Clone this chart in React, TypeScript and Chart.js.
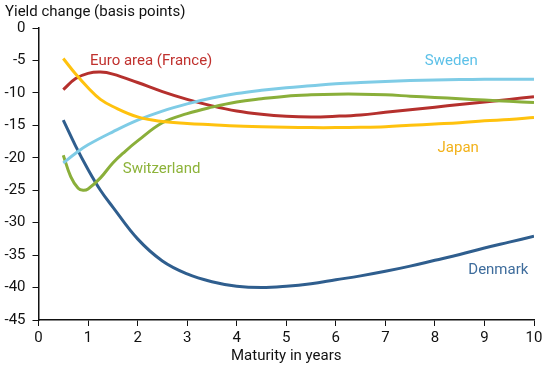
import React, { useEffect, useRef } from "react";
import { Chart, registerables } from "chart.js";

Chart.register(...registerables);

const denmarkX = [0.5, 0.75, 1, 1.25, 1.5, 2, 2.5, 3, 3.5, 4, 4.5, 5, 5.5, 6, 6.5, 7, 7.5, 8, 8.5, 9, 9.5, 10];
const denmarkY = [-14.2, -18.2, -21.8, -25, -27.6, -32.5, -35.9, -37.9, -39.1, -39.8, -40, -39.8, -39.4, -38.8, -38.2, -37.5, -36.7, -35.8, -34.9, -33.9, -33, -32.1];

const franceX = [0.5, 0.75, 1, 1.25, 1.5, 2, 2.5, 3, 3.5, 4, 4.5, 5, 5.5, 6, 6.5, 7, 7.5, 8, 8.5, 9, 9.5, 10];
const franceY = [-9.5, -7.8, -7.0, -6.8, -7.1, -8.4, -9.8, -11.0, -12.0, -12.8, -13.3, -13.6, -13.7, -13.6, -13.4, -13.0, -12.6, -12.2, -11.8, -11.4, -11.0, -10.6];

const japanX = [0.5, 0.75, 1, 1.25, 1.5, 2, 2.5, 3, 3.5, 4, 4.5, 5, 5.5, 6, 6.5, 7, 7.5, 8, 8.5, 9, 9.5, 10];
const japanY = [-4.7, -7.1, -9.2, -11.0, -12.1, -13.7, -14.4, -14.7, -14.9, -15.1, -15.2, -15.3, -15.35, -15.35, -15.3, -15.2, -15.0, -14.8, -14.6, -14.3, -14.1, -13.8];

const swedenX = [0.5, 0.75, 1, 1.5, 2, 2.5, 3, 3.5, 4, 4.5, 5, 5.5, 6, 6.5, 7, 7.5, 8, 8.5, 9, 9.5, 10];
const swedenY = [-20.8, -19.3, -18.0, -16.0, -14.2, -12.8, -11.7, -10.8, -10.1, -9.6, -9.2, -8.9, -8.6, -8.4, -8.25, -8.1, -8.0, -7.95, -7.9, -7.9, -7.9];

const switzerlandX = [0.5, 0.65, 0.8, 0.9, 1, 1.25, 1.5, 1.75, 2, 2.5, 3, 3.5, 4, 4.5, 5, 5.5, 6, 6.5, 7, 7.5, 8, 8.5, 9, 9.5, 10];
const switzerlandY = [-19.6, -22.9, -24.7, -25.0, -24.8, -23.1, -20.8, -19.0, -17.4, -14.6, -13.2, -12.2, -11.4, -10.9, -10.5, -10.3, -10.2, -10.2, -10.3, -10.5, -10.7, -10.9, -11.1, -11.3, -11.5];

const yTickValues = [0, -5, -10, -15, -20, -25, -30, -35, -40, -45];
const xTickValues = [0, 1, 2, 3, 4, 5, 6, 7, 8, 9, 10];

const yAxisTitle = "Yield change (basis points)";
const xAxisTitle = "Maturity in years";

const seriesLabels = [
  { text: "Euro area (France)", x: 1.04, y: -5.1, align: "left", color: "#C0312E" },
  { text: "Sweden", x: 8.33, y: -5.1, align: "center", color: "#5DC1E8" },
  { text: "Japan", x: 8.47, y: -18.5, align: "center", color: "#F2B21B" },
  { text: "Switzerland", x: 1.7, y: -21.8, align: "left", color: "#8DB33A" },
  { text: "Denmark", x: 9.28, y: -37.3, align: "center", color: "#3E6C9C" },
];

const FONT = "Roboto, 'Liberation Sans', sans-serif";
const FS = 15;

const toPts = (xs: number[], ys: number[]) => xs.map((x, i) => ({ x, y: ys[i] }));

const labelPlugin = {
  id: "labels",
  afterDraw(chart: any) {
    const ctx = chart.ctx;
    const xs = chart.scales.x;
    const ys = chart.scales.y;
    ctx.save();
    ctx.font = `${FS}px ${FONT}`;
    ctx.textBaseline = "middle";
    seriesLabels.forEach((l) => {
      ctx.fillStyle = l.color;
      ctx.textAlign = l.align as CanvasTextAlign;
      ctx.fillText(l.text, xs.getPixelForValue(l.x), ys.getPixelForValue(l.y));
    });
    ctx.fillStyle = "#111";
    ctx.textAlign = "left";
    ctx.fillText(yAxisTitle, 5, 12);
    ctx.restore();
  },
};

export default function App() {
  const ref = useRef<HTMLCanvasElement>(null);
  useEffect(() => {
    document.body.style.margin = "0";
    const lineDs = (label: string, xs: number[], ys: number[], color: string) => ({
      label,
      data: toPts(xs, ys),
      borderColor: color,
      backgroundColor: color,
      borderWidth: 3,
      pointRadius: 0,
      tension: 0.4,
      fill: false,
    });
    const chart = new Chart(ref.current!, {
      type: "line",
      data: {
        datasets: [
          lineDs("Japan", japanX, japanY, "#FFC20E"),
          lineDs("Sweden", swedenX, swedenY, "#7FCCE6"),
          lineDs("Switzerland", switzerlandX, switzerlandY, "#8AAF3A"),
          lineDs("Euro area (France)", franceX, franceY, "#B5302D"),
          lineDs("Denmark", denmarkX, denmarkY, "#2F5E8E"),
        ],
      },
      options: {
        animation: false,
        responsive: false,
        maintainAspectRatio: false,
        layout: { padding: { top: 28, right: 16, left: 0, bottom: 0 } },
        plugins: { legend: { display: false }, tooltip: { enabled: false } },
        scales: {
          x: {
            type: "linear",
            min: 0,
            max: 10,
            afterBuildTicks: (s: any) => {
              s.ticks = xTickValues.map((v) => ({ value: v }));
            },
            afterFit: (s: any) => {
              s.height = 45;
            },
            ticks: { color: "#111", font: { family: FONT, size: FS }, padding: 3, maxRotation: 0 },
            grid: { drawOnChartArea: false, tickLength: 6, color: "#111", lineWidth: 1 },
            border: { display: true, color: "#111", width: 1.5 },
            title: { display: true, text: xAxisTitle, color: "#111", font: { family: FONT, size: FS }, padding: { top: 0, bottom: 0 } },
          },
          y: {
            type: "linear",
            min: -45,
            max: 0,
            afterBuildTicks: (s: any) => {
              s.ticks = yTickValues.map((v) => ({ value: v }));
            },
            afterFit: (s: any) => {
              s.width = 38.5;
            },
            ticks: { color: "#111", font: { family: FONT, size: FS }, padding: 7 },
            grid: { drawOnChartArea: false, tickLength: 6, color: "#111", lineWidth: 1 },
            border: { display: true, color: "#111", width: 1.5 },
          },
        },
      },
      plugins: [labelPlugin],
    });
    return () => chart.destroy();
  }, []);
  return (
    <div style={{ width: 550, height: 365 }}>
      <canvas ref={ref} width={550} height={365} style={{ display: "block" }} />
    </div>
  );
}
